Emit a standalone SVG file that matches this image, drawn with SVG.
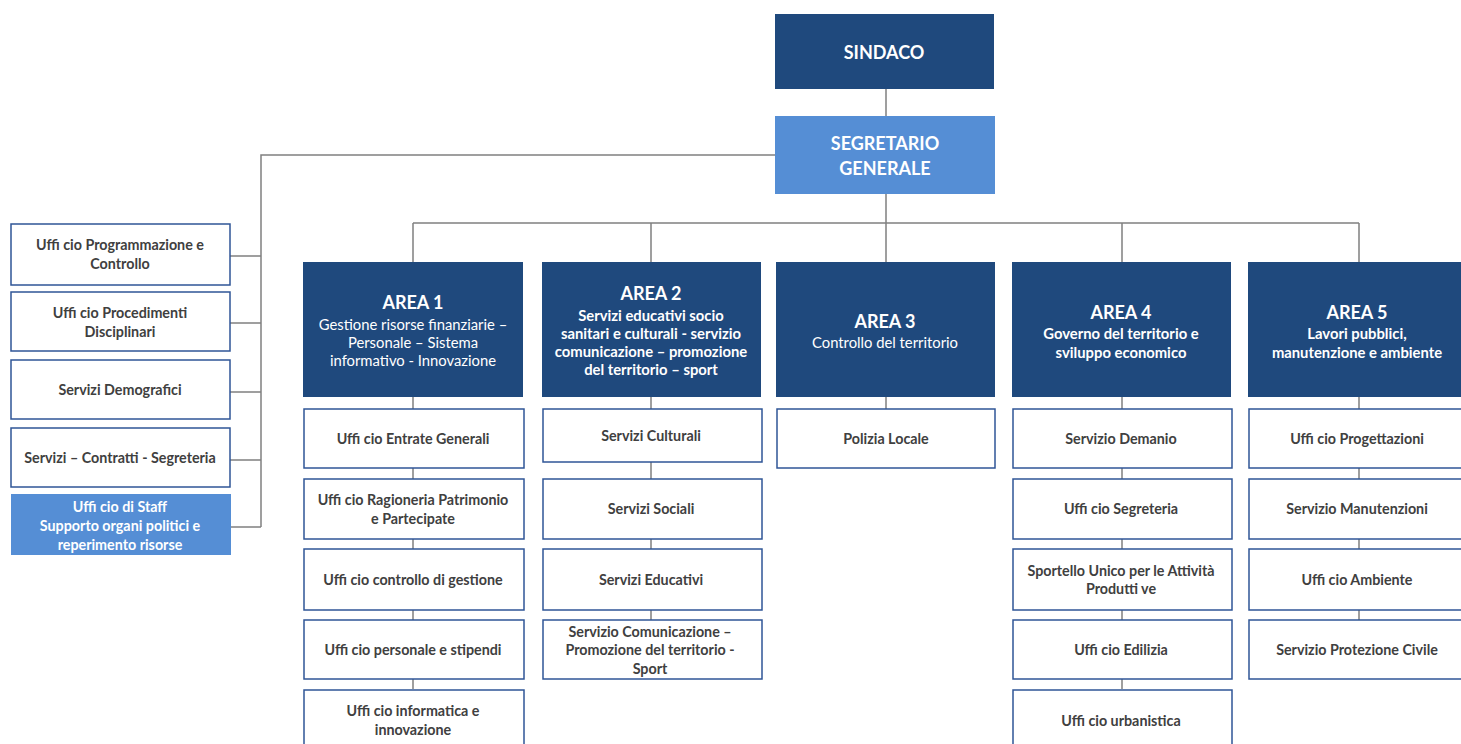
<svg xmlns="http://www.w3.org/2000/svg" width="1461" height="744" viewBox="0 0 1461 744">
<style>
.dark{fill:#1f497d}
.light{fill:#558ed5}
.box{fill:#ffffff;stroke:#2f5597;stroke-width:1.5}
.t{font-family:Lato,"Liberation Sans",sans-serif;font-size:14.3px;font-weight:bold;fill:#404040;text-anchor:middle;dominant-baseline:central}
.w{fill:#ffffff}
.s{font-size:14.8px}
.h{font-size:18px}
.r{font-weight:normal}
.c{stroke:#808080;stroke-width:1.5;fill:none}
</style>
<rect width="1461" height="744" fill="#ffffff"/>
<g id="connectors">
<path class="c" d="M886 89V116M886 194V223M413 223H1359M413 223V262M651 223V262M886 223V262M1122 223V262M1359 223V262"/>
<path class="c" d="M775 155H261V527M230 256H261M230 323H261M230 392H261M230 460H261M230 527H261"/>
<path class="c" d="M413 397V689M651 397V620M886 397V409M1122 397V689M1359 397V620"/>
</g>
<g id="sindaco"><rect class="dark" x="775" y="14" width="219" height="75"/><text class="t w h" x="884" y="52">SINDACO</text></g>
<g id="segretario"><rect class="light" x="775" y="116" width="220" height="78"/><text class="t w h" x="885" y="143">SEGRETARIO</text><text class="t w h" x="885" y="168">GENERALE</text></g>
<g id="staff1"><rect class="box" x="11" y="224" width="219" height="61"/><text class="t" x="120" y="244">Uffi cio Programmazione e</text><text class="t" x="120" y="263">Controllo</text></g>
<g id="staff2"><rect class="box" x="11" y="292" width="219" height="59"/><text class="t" x="120" y="312">Uffi cio Procedimenti</text><text class="t" x="120" y="331">Disciplinari</text></g>
<g id="staff3"><rect class="box" x="11" y="360" width="219" height="59"/><text class="t" x="120" y="389">Servizi Demografici</text></g>
<g id="staff4"><rect class="box" x="11" y="428" width="219" height="59"/><text class="t" x="120" y="457">Servizi – Contratti - Segreteria</text></g>
<g id="staff5"><rect class="light" x="11" y="494" width="220" height="61"/><text class="t w" x="120" y="506">Uffi cio di Staff</text><text class="t w" x="120" y="525">Supporto organi politici e</text><text class="t w" x="120" y="544">reperimento risorse</text></g>
<g id="area1"><rect class="dark" x="303" y="262" width="220" height="135"/><text class="t w h" x="413" y="302">AREA 1</text><text class="t w r s" x="413" y="324">Gestione risorse finanziarie –</text><text class="t w r s" x="413" y="342">Personale – Sistema</text><text class="t w r s" x="413" y="360">informativo - Innovazione</text></g>
<g id="area2"><rect class="dark" x="542" y="262" width="219" height="135"/><text class="t w h" x="651" y="293">AREA 2</text><text class="t w s" x="651" y="315">Servizi educativi socio</text><text class="t w s" x="651" y="333">sanitari e culturali - servizio</text><text class="t w s" x="651" y="351">comunicazione – promozione</text><text class="t w s" x="651" y="369">del territorio – sport</text></g>
<g id="area3"><rect class="dark" x="776" y="262" width="219" height="135"/><text class="t w h" x="885" y="321">AREA 3</text><text class="t w r s" x="885" y="342">Controllo del territorio</text></g>
<g id="area4"><rect class="dark" x="1012" y="262" width="219" height="135"/><text class="t w h" x="1121" y="312">AREA 4</text><text class="t w s" x="1121" y="333">Governo del territorio e</text><text class="t w s" x="1121" y="352">sviluppo economico</text></g>
<g id="area5"><rect class="dark" x="1248" y="262" width="220" height="135"/><text class="t w h" x="1357" y="312">AREA 5</text><text class="t w s" x="1357" y="333">Lavori pubblici,</text><text class="t w s" x="1357" y="352">manutenzione e ambiente</text></g>
<g id="a1-1"><rect class="box" x="304" y="409" width="220" height="59"/><text class="t" x="413" y="438">Uffi cio Entrate Generali</text></g>
<g id="a1-2"><rect class="box" x="304" y="479" width="220" height="60"/><text class="t" x="413" y="499">Uffi cio Ragioneria Patrimonio</text><text class="t" x="413" y="518">e Partecipate</text></g>
<g id="a1-3"><rect class="box" x="304" y="549" width="220" height="61"/><text class="t" x="413" y="579">Uffi cio controllo di gestione</text></g>
<g id="a1-4"><rect class="box" x="304" y="620" width="220" height="59"/><text class="t" x="413" y="649">Uffi cio personale e stipendi</text></g>
<g id="a1-5"><rect class="box" x="304" y="690" width="220" height="70"/><text class="t" x="413" y="710">Uffi cio informatica e</text><text class="t" x="413" y="729">innovazione</text></g>
<g id="a2-1"><rect class="box" x="543" y="409" width="219" height="53"/><text class="t" x="651" y="435">Servizi Culturali</text></g>
<g id="a2-2"><rect class="box" x="543" y="479" width="219" height="60"/><text class="t" x="651" y="508">Servizi Sociali</text></g>
<g id="a2-3"><rect class="box" x="543" y="549" width="219" height="61"/><text class="t" x="651" y="579">Servizi Educativi</text></g>
<g id="a2-4"><rect class="box" x="543" y="620" width="219" height="59"/><text class="t" x="650" y="631">Servizio Comunicazione –</text><text class="t" x="650" y="649">Promozione del territorio -</text><text class="t" x="650" y="668">Sport</text></g>
<g id="a3-1"><rect class="box" x="777" y="409" width="218" height="59"/><text class="t" x="886" y="438">Polizia Locale</text></g>
<g id="a4-1"><rect class="box" x="1013" y="409" width="219" height="59"/><text class="t" x="1121" y="438">Servizio Demanio</text></g>
<g id="a4-2"><rect class="box" x="1013" y="479" width="219" height="60"/><text class="t" x="1121" y="508">Uffi cio Segreteria</text></g>
<g id="a4-3"><rect class="box" x="1013" y="549" width="219" height="61"/><text class="t" x="1121" y="570">Sportello Unico per le Attività</text><text class="t" x="1121" y="588">Produtti ve</text></g>
<g id="a4-4"><rect class="box" x="1013" y="620" width="219" height="59"/><text class="t" x="1121" y="649">Uffi cio Edilizia</text></g>
<g id="a4-5"><rect class="box" x="1013" y="690" width="219" height="70"/><text class="t" x="1121" y="720">Uffi cio urbanistica</text></g>
<g id="a5-1"><rect class="box" x="1249" y="409" width="220" height="59"/><text class="t" x="1357" y="438">Uffi cio Progettazioni</text></g>
<g id="a5-2"><rect class="box" x="1249" y="479" width="220" height="60"/><text class="t" x="1357" y="508">Servizio Manutenzioni</text></g>
<g id="a5-3"><rect class="box" x="1249" y="549" width="220" height="61"/><text class="t" x="1357" y="579">Uffi cio Ambiente</text></g>
<g id="a5-4"><rect class="box" x="1249" y="620" width="220" height="59"/><text class="t" x="1357" y="649">Servizio Protezione Civile</text></g>
</svg>
